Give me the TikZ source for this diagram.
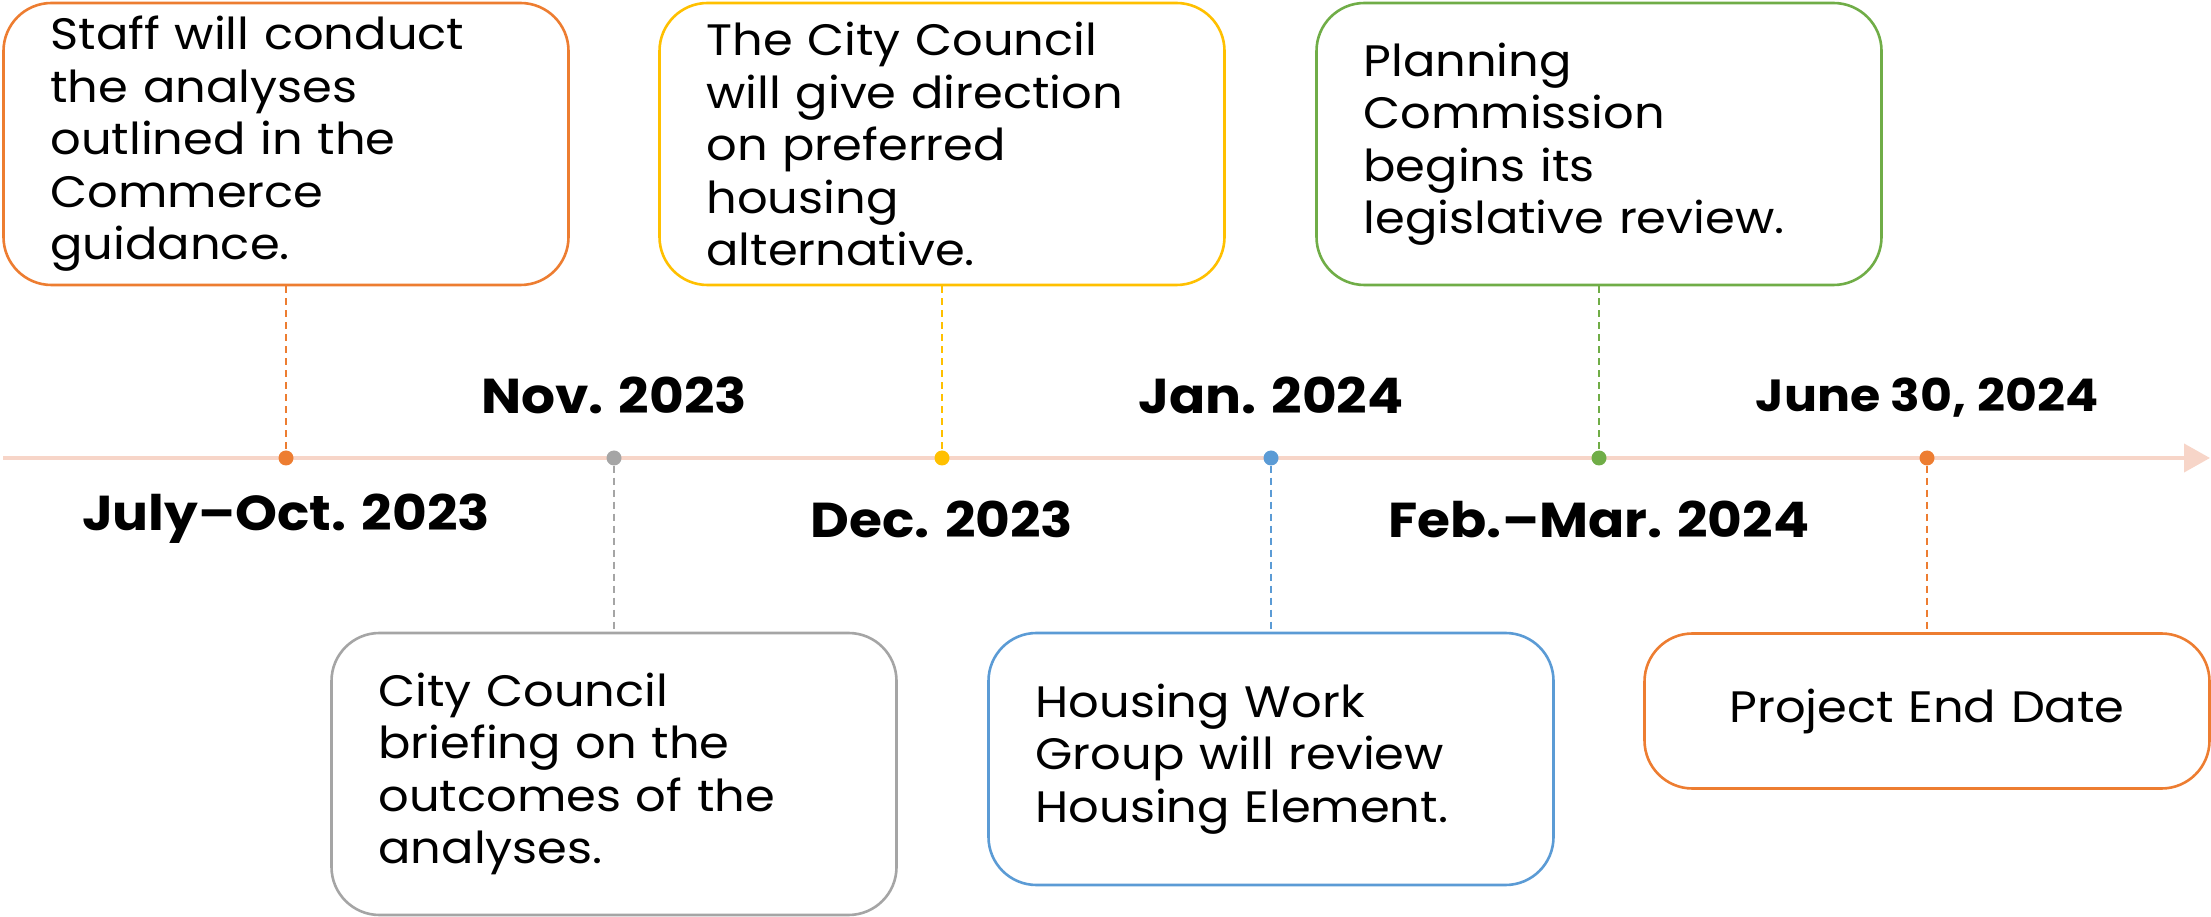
\documentclass[tikz,border=0pt]{standalone}
\usepackage{fontspec}
\setmainfont{Poppins}[FakeStretch=1.09]
\usetikzlibrary{arrows.meta}
\definecolor{cOrange}{HTML}{ED7D31}
\definecolor{cYellow}{HTML}{FFC000}
\definecolor{cGreen}{HTML}{70AD47}
\definecolor{cGray}{HTML}{A5A5A5}
\definecolor{cBlue}{HTML}{5B9BD5}
\definecolor{cLine}{HTML}{F7D5C8}
\begin{document}
\begin{tikzpicture}[x=1pt,y=1pt,
  event/.style={draw=#1, line width=2.6pt, rounded corners=48pt, fill=white,
    text width=471pt, inner xsep=47pt, inner ysep=0pt, align=left,
    minimum height=282pt, font=\fontsize{44}{52.5}\selectfont},
  dot/.style={circle, fill=#1, inner sep=0pt, minimum size=15pt},
  stem/.style={draw=#1, line width=1.4pt, dash pattern=on 7pt off 5pt},
  datelbl/.style={font=\fontsize{49}{54}\selectfont\bfseries},
]
\useasboundingbox (0,0) rectangle (2211,916);

% timeline axis
\coordinate (tstart) at (3,458);
\coordinate (tend) at (2210,458);
\draw[cLine, line width=4pt, -{Triangle[length=26pt,width=28pt]}] (tstart) -- (tend);

% milestone dots
\node[dot=cOrange] (d1) at (286,458) {};
\node[dot=cGray]   (d2) at (614,458) {};
\node[dot=cYellow] (d3) at (942,458) {};
\node[dot=cBlue]   (d4) at (1271,458) {};
\node[dot=cGreen]  (d5) at (1599,458) {};
\node[dot=cOrange] (d6) at (1927,458) {};

% event boxes
\node[event=cOrange] (b1) at (286,772) {Staff will conduct\\the analyses\\outlined in the\\Commerce\\guidance.};
\node[event=cYellow] (b3) at (942,772) {The City Council\\will give direction\\on preferred\\housing\\alternative.};
\node[event=cGreen]  (b5) at (1599,772) {Planning\\Commission\\begins its\\legislative review.};
\node[event=cGray]   (b2) at (614,142) {City Council\\briefing on the\\outcomes of the\\analyses.};
\node[event=cBlue, minimum height=252pt] (b4) at (1271,157) {Housing Work\\Group will review\\Housing Element.};
\node[event=cOrange, minimum height=155pt, align=center] (b6) at (1927,205) {Project End Date};

% dashed stems
\draw[stem=cOrange] (b1.south) -- (d1);
\draw[stem=cGray]   (d2) -- (b2.north);
\draw[stem=cYellow] (b3.south) -- (d3);
\draw[stem=cBlue]   (d4) -- (b4.north);
\draw[stem=cGreen]  (b5.south) -- (d5);
\draw[stem=cOrange] (d6) -- (b6.north);

% date labels
\node[datelbl] (l1) at (286,397) {July–Oct. 2023};
\node[datelbl] (l2) at (614,521) {Nov. 2023};
\node[datelbl] (l3) at (942,397) {Dec. 2023};
\node[datelbl] (l4) at (1271,521) {Jan. 2024};
\node[datelbl] (l5) at (1599,397) {Feb.–Mar. 2024};
\node[datelbl, font=\fontsize{45}{50}\selectfont\bfseries] (l6) at (1927,518) {June 30, 2024};
\end{tikzpicture}
\end{document}
